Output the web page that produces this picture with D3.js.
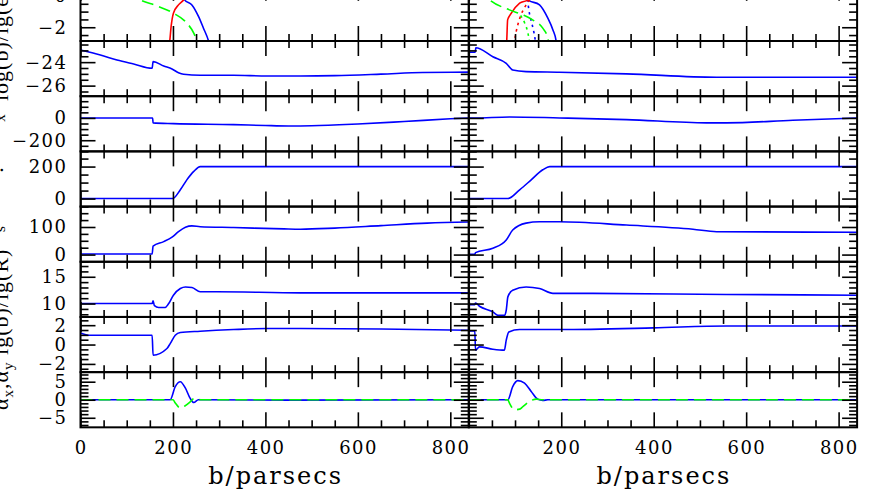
<!DOCTYPE html>
<html><head><meta charset="utf-8">
<script src="https://cdn.jsdelivr.net/npm/d3@7"></script>
<style>body{margin:0;background:#fff}svg{display:block}</style>
</head><body>
<svg id="c" width="878" height="491"></svg>
<script>
// ---------- axis data ----------
const xMajorTicks = [0, 200, 400, 600, 800];
const xMinorStep = 50;
const xMax = 840;
const panelYMin = [-2.88, -26.9, -300, -50, -26, 7.5, -2.85, -7.65];
const panelYMax = [0.65, -22.2, 195, 295, 174, 17.8, 2.85, 7.65];
const panelMajor = [2, 2, 200, 200, 100, 5, 2, 5];
const panelMinor = [0.5, 0.5, 50, 50, 25, 1, 0.5, 1];
const xTitle = "b/parsecs";

// ---------- series data: [b, value] ----------
// panel 1 (left)
const p1L_blue  = [[214,0.7],[225,-0.25],[241,-0.57],[255.5,-1.32],[266,-2.06],[277,-2.88],[279,-3.1]];
const p1L_red   = [[191,-3.1],[193,-2.88],[196,-1.96],[201,-1.10],[212,-0.57],[223,-0.25],[235,0.3]];
const p1L_green = [[100,0.3],[129,-0.25],[165,-0.63],[201,-1.10],[227,-1.64],[245,-2.38],[252,-2.88],[254,-3.1]];
// panel 1 (right)
const p1R_blue      = [[118,0.4],[128,-0.25],[153,-0.57],[171,-1.42],[182,-2.17],[189,-2.88],[190,-3.1]];
const p1R_blueDot   = [[127,-0.2],[130,-0.9],[135,-1.6],[140,-2.2],[144,-2.88],[145,-3.1]];
const p1R_red       = [[81,-3.1],[82,-2.88],[84,-1.53],[92,-1.10],[110,-0.46],[128,-0.25],[140,0.2]];
const p1R_redDot    = [[98,-3.1],[99,-2.88],[106,-1.85],[113,-1.21],[124,-0.57],[131,-0.25],[135,0.1]];
const p1R_green     = [[20,0.5],[45,-0.25],[88,-0.89],[117,-1.21],[138,-1.53],[160,-2.06],[171,-2.7],[173,-3.0]];
const p1R_greenDot  = [[112,-1.25],[121,-1.74],[128,-2.38],[131,-2.88],[132,-3.1]];
// panel 2
const p2L = [[0,-22.97],[43,-23.39],[79,-23.82],[115,-24.16],[155,-24.52],[157,-23.96],[180,-24.33],[198,-24.58],[212,-24.9],[223,-25.03],[259,-25.12],[331,-25.12],[403,-25.18],[476,-25.18],[550,-25.15],[650,-25.02],[740,-24.88],[840,-24.85]];
const p2R = [[0,-23.16],[14,-23.16],[15,-22.77],[52,-23.54],[81,-24.1],[95,-24.67],[124,-24.81],[196,-24.86],[341,-25.0],[536,-25.29],[840,-25.29]];
// panel 3
const p3L = [[0,0],[156,0],[157,-44],[201,-51],[331,-60],[400,-68],[450,-72],[500,-70],[600,-54],[700,-32],[800,-8],[840,0]];
const p3R = [[0,0],[12,0],[88,9],[196,0],[341,-15],[514,-44],[557,-44],[701,-21],[840,0]];
// panel 4
const p4L = [[0,0],[199,0],[216,55],[230,117],[245,170],[259,200],[840,200]];
const p4R = [[0,0],[84.5,0],[110,55],[135,117],[160,180],[175,200],[840,200]];
// panel 5
const p5L = [[0,2],[155,2],[157,31],[180,47],[198,63],[212,83],[227,99],[241,104],[259,101],[331,98],[440,93],[476,92],[550,96],[650,105],[750,114],[840,118]];
const p5R = [[0,1],[13,1],[14.5,7],[52,23],[81,53],[95,89],[124,114],[153,119],[196,119],[341,107],[485,92],[536,83],[840,81]];
// panel 6
const p6L = [[0,10],[155,10],[157,10.5],[160,9.6],[169,9.26],[183,9.26],[190,9.9],[201,11.56],[216,12.8],[227,13.1],[241,13.0],[259,12.2],[295,12.2],[476,12.0],[840,12.0]];
const p6R = [[0,9.8],[13,9.8],[14.5,10.1],[23,9.5],[52,8.44],[63,7.8],[77,7.8],[81,8.75],[84.5,11.25],[95,12.5],[124,13.1],[153,12.8],[182,11.9],[268,11.9],[557,11.7],[840,11.56]];
// panel 7
const p7L = [[0,1.2],[20,0.96],[155,0.96],[157,-1.1],[187,-0.41],[194,0.1],[205,0.96],[216,1.24],[259,1.38],[331,1.55],[403,1.65],[476,1.65],[650,1.6],[840,1.48]];
const p7R = [[0,1.4],[13,1.4],[14.5,-0.58],[23,-0.24],[52,-0.48],[77,-0.58],[81,0.45],[86.6,1.3],[110,1.55],[196,1.55],[399,1.72],[557,1.92],[840,1.92]];
// panel 8
const p8L_blue  = [[0,0],[194,0],[205,3.65],[216,5.0],[227,3.2],[237,0.44],[245,-0.77],[255,0],[270,0],[450,-0.1],[840,0]];
const p8L_green = [[0,0],[200,0],[205,-0.9],[216,-2.3],[225,-1.8],[238,-0.5],[245,0.3],[260,0],[840,0]];
const p8R_blue  = [[0,0],[84.5,0],[95,3.65],[106,5.3],[120.6,4.6],[135,2.3],[149,0.17],[160,-0.2],[171,0],[840,0]];
const p8R_green = [[0,0],[84.5,0],[88,-0.95],[99,-2.8],[110,-2.6],[117,-1.9],[131,-0.5],[146,0.17],[160,0],[840,0]];

// ---------- table built from the arrays ----------
const BLUE = "#0000ff", RED = "#ff0000", GREEN = "#00ff00";
const SOLID = null, DASH = "12,6", DOT = "2.5,4";
const seriesTable = [
  [ // left column
    [[p1L_blue,BLUE,SOLID],[p1L_red,RED,SOLID],[p1L_green,GREEN,DASH]],
    [[p2L,BLUE,SOLID]],
    [[p3L,BLUE,SOLID]],
    [[p4L,BLUE,SOLID]],
    [[p5L,BLUE,SOLID]],
    [[p6L,BLUE,SOLID]],
    [[p7L,BLUE,SOLID]],
    [[p8L_blue,BLUE,SOLID],[p8L_green,GREEN,DASH]]
  ],
  [ // right column
    [[p1R_blue,BLUE,SOLID],[p1R_blueDot,BLUE,DOT],[p1R_red,RED,SOLID],[p1R_redDot,RED,DOT],[p1R_green,GREEN,DASH],[p1R_greenDot,GREEN,DOT]],
    [[p2R,BLUE,SOLID]],
    [[p3R,BLUE,SOLID]],
    [[p4R,BLUE,SOLID]],
    [[p5R,BLUE,SOLID]],
    [[p6R,BLUE,SOLID]],
    [[p7R,BLUE,SOLID]],
    [[p8R_blue,BLUE,SOLID],[p8R_green,GREEN,DASH]]
  ]
];

// ---------- layout ----------
const svg = d3.select("#c");
const colRange = [[80.5, 468.8], [468.8, 857.1]];
const rowTop0 = -14.19, rowH = 55.19;
const nRows = panelYMin.length;
const xScales = colRange.map(r => d3.scaleLinear().domain([0, xMax]).range(r));
const SERIF = "'DejaVu Serif', 'Liberation Serif', serif";
const TSERIF = "'Liberation Serif', 'DejaVu Serif', serif";
const LBL_SIZE = 18, LBL_LS = 1.5;
const TTL_SIZE = 24, TTL_LS = 2;
const fmt = v => (v < 0 ? "\u2212" + Math.abs(v) : String(v));

function tickSets(min, max, major, minor) {
  const majors = [], minors = [];
  for (let k = Math.ceil(min / minor - 1e-9); k <= Math.floor(max / minor + 1e-9); k++) {
    const v = +(k * minor).toFixed(6);
    const r = v / major;
    if (Math.abs(r - Math.round(r)) < 1e-6) majors.push(v); else minors.push(v);
  }
  return {majors, minors};
}
const xMinor = d3.range(0, xMax + 1e-9, xMinorStep).filter(v => !xMajorTicks.includes(v));

const defs = svg.append("defs");
const linesG = svg.append("g");
const axesG = svg.append("g");

function styleAxis(g, w) {
  g.select(".domain").remove();
  g.selectAll("line").attr("stroke", "#000").attr("stroke-width", w);
}

for (let c = 0; c < 2; c++) {
  const x = xScales[c];
  for (let r = 0; r < nRows; r++) {
    const top = rowTop0 + r * rowH, bot = top + rowH;
    const y = d3.scaleLinear().domain([panelYMin[r], panelYMax[r]]).range([bot, top]);
    const id = `clip-${c}-${r}`;
    defs.append("clipPath").attr("id", id).append("rect")
      .attr("x", x.range()[0]).attr("y", top)
      .attr("width", x.range()[1] - x.range()[0]).attr("height", rowH);
    const line = d3.line().x(d => x(d[0])).y(d => y(d[1])).curve(d3.curveMonotoneX);
    const pg = linesG.append("g").attr("clip-path", `url(#${id})`);
    seriesTable[c][r].forEach(([data, color, dash]) => {
      pg.append("path").attr("d", line(data)).attr("fill", "none")
        .attr("stroke", color).attr("stroke-width", 1.6)
        .attr("stroke-dasharray", dash).attr("stroke-linejoin", "round");
    });

    // y ticks
    const ts = tickSets(panelYMin[r], panelYMax[r], panelMajor[r], panelMinor[r]);
    const x0 = x.range()[0], x1 = x.range()[1];
    [[ts.majors, 15], [ts.minors, 8]].forEach(([vals, len]) => {
      axesG.append("g").attr("transform", `translate(${x0},0)`)
        .call(d3.axisRight(y).tickValues(vals).tickSize(len).tickFormat(""))
        .call(g => styleAxis(g, 1.6));
      axesG.append("g").attr("transform", `translate(${x1},0)`)
        .call(d3.axisLeft(y).tickValues(vals).tickSize(len).tickFormat(""))
        .call(g => styleAxis(g, 1.6));
    });
    // x ticks
    [[xMajorTicks, 15], [xMinor, 7]].forEach(([vals, len]) => {
      axesG.append("g").attr("transform", `translate(0,${top})`)
        .call(d3.axisBottom(x).tickValues(vals).tickSize(len).tickFormat(""))
        .call(g => styleAxis(g, 1.6));
      axesG.append("g").attr("transform", `translate(0,${bot})`)
        .call(d3.axisTop(x).tickValues(vals).tickSize(len).tickFormat(""))
        .call(g => styleAxis(g, 1.6));
    });
    // frame
    axesG.append("rect").attr("x", x0).attr("y", top)
      .attr("width", x1 - x0).attr("height", rowH)
      .attr("fill", "none").attr("stroke", "#000").attr("stroke-width", 2);

    // y tick labels (left column only)
    if (c === 0) {
      axesG.selectAll(null).data(ts.majors).enter().append("text")
        .attr("x", 66 + LBL_LS).attr("y", d => y(d)).attr("dy", "0.36em")
        .attr("text-anchor", "end").attr("font-family", SERIF).attr("font-size", LBL_SIZE)
        .attr("letter-spacing", LBL_LS).attr("fill", "#000").text(d => fmt(d));
    }
    // x tick labels (bottom row)
    if (r === nRows - 1) {
      const labs = c === 0 ? xMajorTicks : xMajorTicks.filter(v => v !== 0);
      axesG.selectAll(null).data(labs).enter().append("text")
        .attr("x", d => x(d) + LBL_LS / 2).attr("y", 454)
        .attr("text-anchor", "middle").attr("font-family", SERIF).attr("font-size", LBL_SIZE)
        .attr("letter-spacing", LBL_LS).attr("fill", "#000").text(d => fmt(d));
      axesG.append("text").attr("x", (x0 + x1) / 2 + TTL_LS / 2).attr("y", 484)
        .attr("text-anchor", "middle").attr("font-family", SERIF).attr("font-size", TTL_SIZE)
        .attr("letter-spacing", TTL_LS).attr("fill", "#000").text(xTitle);
    }
  }
}

// rotated y-axis titles (mostly outside the picture on the left)
const titles = svg.append("g").attr("font-family", TSERIF).attr("fill", "#000");
titles.append("text").attr("transform", "translate(8,101) rotate(-90)")
  .attr("font-size", 22).attr("letter-spacing", 1).text("log(b)/lg(e)");
titles.append("text").attr("transform", "translate(4.5,118) rotate(-90)")
  .attr("font-size", 15).attr("text-anchor", "middle").text("x");
titles.append("text").attr("transform", "translate(3,170) rotate(-90)")
  .attr("font-size", 22).attr("text-anchor", "middle").text(".");
titles.append("text").attr("transform", "translate(4.5,229) rotate(-90)")
  .attr("font-size", 15).attr("text-anchor", "middle").text("s");
const t4 = titles.append("text").attr("transform", "translate(8,410) rotate(-90)")
  .attr("font-size", 22).attr("letter-spacing", 1);
t4.append("tspan").text("\u03b1");
t4.append("tspan").attr("font-size", 15).attr("dy", 5).text("x");
t4.append("tspan").attr("dy", -5).text(",\u03b1");
t4.append("tspan").attr("font-size", 15).attr("dy", 5).text("y");
t4.append("tspan").attr("dy", -5).text(" lg(b)/lg(R)");
</script>
</body></html>
